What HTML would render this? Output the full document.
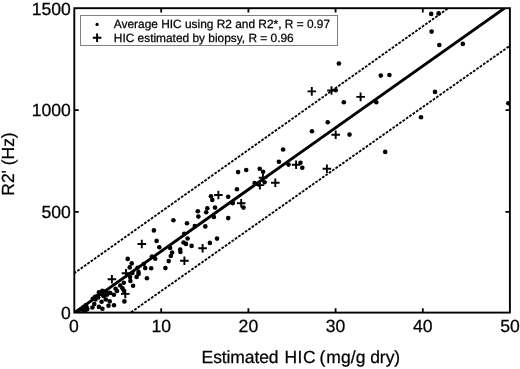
<!DOCTYPE html>
<html><head><meta charset="utf-8"><title>chart</title>
<style>
html,body{margin:0;padding:0;background:#fff;}
body{width:520px;height:369px;overflow:hidden;font-family:"Liberation Sans",sans-serif;}
svg{display:block;will-change:transform;}
text{font-family:"Liberation Sans",sans-serif;fill:#000;stroke:#000;stroke-width:0.25px;text-rendering:geometricPrecision;}
</style></head><body>
<svg width="520" height="369" viewBox="0 0 520 369">
<rect x="0" y="0" width="520" height="369" fill="#fff"/>
<defs><clipPath id="c"><rect x="74" y="8.3" width="436" height="304.7"/></clipPath></defs>

<g clip-path="url(#c)">
<line x1="74.0" y1="273.4" x2="510.0" y2="-35.5" stroke="#000" stroke-width="1.85" stroke-dasharray="2.7 1.4"/>
<line x1="74.0" y1="352.4" x2="510.0" y2="45.7" stroke="#000" stroke-width="1.85" stroke-dasharray="2.7 1.4"/>
<line x1="74.0" y1="313.0" x2="510.0" y2="4.3" stroke="#000" stroke-width="2.9"/>
<g fill="#000">
<circle cx="108.5" cy="305.8" r="2.3"/>
<circle cx="98.9" cy="306.9" r="2.3"/>
<circle cx="102.4" cy="308.7" r="2.3"/>
<circle cx="94.3" cy="304.1" r="2.3"/>
<circle cx="92.4" cy="307.5" r="2.3"/>
<circle cx="101.6" cy="301.8" r="2.3"/>
<circle cx="85.8" cy="305.2" r="2.3"/>
<circle cx="83.5" cy="307.2" r="2.3"/>
<circle cx="81.2" cy="309.1" r="2.3"/>
<circle cx="87.4" cy="309.1" r="2.3"/>
<circle cx="78.5" cy="311.4" r="2.3"/>
<circle cx="85.0" cy="311.4" r="2.3"/>
<circle cx="105.8" cy="299.5" r="2.3"/>
<circle cx="109.7" cy="301.4" r="2.3"/>
<circle cx="98.9" cy="292.2" r="2.3"/>
<circle cx="102.8" cy="291.4" r="2.3"/>
<circle cx="105.8" cy="294.5" r="2.3"/>
<circle cx="95.1" cy="296.8" r="2.3"/>
<circle cx="92.8" cy="298.7" r="2.3"/>
<circle cx="98.2" cy="297.5" r="2.3"/>
<circle cx="103.5" cy="296.0" r="2.3"/>
<circle cx="108.9" cy="292.9" r="2.3"/>
<circle cx="83.0" cy="309.8" r="2.3"/>
<circle cx="86.5" cy="307.0" r="2.3"/>
<circle cx="84.2" cy="311.6" r="2.3"/>
<circle cx="95.5" cy="299.5" r="2.3"/>
<circle cx="97.5" cy="296.0" r="2.3"/>
<circle cx="123.8" cy="290.8" r="2.3"/>
<circle cx="133.1" cy="285.7" r="2.3"/>
<circle cx="123.8" cy="282.7" r="2.3"/>
<circle cx="130.4" cy="280.9" r="2.3"/>
<circle cx="130.1" cy="277.1" r="2.3"/>
<circle cx="136.6" cy="276.9" r="2.3"/>
<circle cx="138.6" cy="273.9" r="2.3"/>
<circle cx="132.4" cy="273.0" r="2.3"/>
<circle cx="120.2" cy="285.5" r="2.3"/>
<circle cx="122.5" cy="288.2" r="2.3"/>
<circle cx="115.6" cy="288.7" r="2.3"/>
<circle cx="117.0" cy="291.0" r="2.3"/>
<circle cx="110.3" cy="293.0" r="2.3"/>
<circle cx="113.9" cy="294.7" r="2.3"/>
<circle cx="102.3" cy="290.8" r="2.3"/>
<circle cx="105.4" cy="291.5" r="2.3"/>
<circle cx="101.5" cy="293.8" r="2.3"/>
<circle cx="107.0" cy="294.6" r="2.3"/>
<circle cx="103.8" cy="296.0" r="2.3"/>
<circle cx="146.9" cy="278.3" r="2.3"/>
<circle cx="124.4" cy="301.4" r="2.3"/>
<circle cx="114.0" cy="305.2" r="2.3"/>
<circle cx="155.2" cy="258.8" r="2.3"/>
<circle cx="137.6" cy="267.7" r="2.3"/>
<circle cx="153.9" cy="230.4" r="2.3"/>
<circle cx="156.6" cy="240.9" r="2.3"/>
<circle cx="159.3" cy="247.2" r="2.3"/>
<circle cx="127.7" cy="258.9" r="2.3"/>
<circle cx="131.7" cy="263.4" r="2.3"/>
<circle cx="129.7" cy="267.4" r="2.3"/>
<circle cx="138.5" cy="272.1" r="2.3"/>
<circle cx="143.8" cy="264.0" r="2.3"/>
<circle cx="145.2" cy="268.1" r="2.3"/>
<circle cx="151.2" cy="268.3" r="2.3"/>
<circle cx="151.9" cy="256.6" r="2.3"/>
<circle cx="165.4" cy="268.1" r="2.3"/>
<circle cx="168.7" cy="261.1" r="2.3"/>
<circle cx="170.8" cy="256.0" r="2.3"/>
<circle cx="172.1" cy="252.6" r="2.3"/>
<circle cx="170.1" cy="247.9" r="2.3"/>
<circle cx="180.2" cy="249.5" r="2.3"/>
<circle cx="180.4" cy="252.0" r="2.3"/>
<circle cx="183.5" cy="242.5" r="2.3"/>
<circle cx="187.6" cy="238.5" r="2.3"/>
<circle cx="191.6" cy="245.9" r="2.3"/>
<circle cx="184.2" cy="233.7" r="2.3"/>
<circle cx="173.4" cy="220.3" r="2.3"/>
<circle cx="186.0" cy="243.9" r="2.3"/>
<circle cx="236.9" cy="189.2" r="2.3"/>
<circle cx="228.2" cy="196.8" r="2.3"/>
<circle cx="211.0" cy="196.2" r="2.3"/>
<circle cx="212.3" cy="199.9" r="2.3"/>
<circle cx="215.0" cy="207.6" r="2.3"/>
<circle cx="207.3" cy="208.3" r="2.3"/>
<circle cx="206.2" cy="212.3" r="2.3"/>
<circle cx="197.8" cy="211.2" r="2.3"/>
<circle cx="198.4" cy="216.6" r="2.3"/>
<circle cx="187.0" cy="223.3" r="2.3"/>
<circle cx="194.8" cy="226.0" r="2.3"/>
<circle cx="205.3" cy="226.4" r="2.3"/>
<circle cx="213.9" cy="217.0" r="2.3"/>
<circle cx="228.2" cy="218.1" r="2.3"/>
<circle cx="232.5" cy="202.9" r="2.3"/>
<circle cx="243.5" cy="207.6" r="2.3"/>
<circle cx="209.9" cy="242.9" r="2.3"/>
<circle cx="217.0" cy="238.6" r="2.3"/>
<circle cx="312.0" cy="131.2" r="2.3"/>
<circle cx="283.1" cy="149.5" r="2.3"/>
<circle cx="278.9" cy="161.8" r="2.3"/>
<circle cx="288.5" cy="164.6" r="2.3"/>
<circle cx="300.5" cy="162.8" r="2.3"/>
<circle cx="302.3" cy="167.7" r="2.3"/>
<circle cx="246.2" cy="170.0" r="2.3"/>
<circle cx="259.7" cy="168.8" r="2.3"/>
<circle cx="263.1" cy="171.8" r="2.3"/>
<circle cx="254.6" cy="183.1" r="2.3"/>
<circle cx="264.6" cy="182.3" r="2.3"/>
<circle cx="259.0" cy="184.6" r="2.3"/>
<circle cx="238.1" cy="172.1" r="2.3"/>
<circle cx="232.7" cy="203.1" r="2.3"/>
<circle cx="338.9" cy="63.5" r="2.3"/>
<circle cx="335.7" cy="90.3" r="2.3"/>
<circle cx="343.8" cy="102.3" r="2.3"/>
<circle cx="327.7" cy="122.3" r="2.3"/>
<circle cx="349.5" cy="134.6" r="2.3"/>
<circle cx="385.2" cy="151.9" r="2.3"/>
<circle cx="380.8" cy="75.6" r="2.3"/>
<circle cx="389.4" cy="75.0" r="2.3"/>
<circle cx="376.3" cy="102.3" r="2.3"/>
<circle cx="435.0" cy="91.9" r="2.3"/>
<circle cx="421.0" cy="117.3" r="2.3"/>
<circle cx="431.2" cy="13.9" r="2.3"/>
<circle cx="438.6" cy="13.4" r="2.3"/>
<circle cx="431.6" cy="31.6" r="2.3"/>
<circle cx="439.3" cy="45.0" r="2.3"/>
<circle cx="462.8" cy="43.9" r="2.3"/>
<circle cx="508.3" cy="103.3" r="2.3"/>
</g>
<g stroke="#000" stroke-width="1.9">
<path d="M107.6 279.3h8.6M111.9 275.0v8.6"/>
<path d="M121.7 273.2h8.6M126.0 268.9v8.6"/>
<path d="M121.0 293.9h8.6M125.3 289.6v8.6"/>
<path d="M137.5 244.0h8.6M141.8 239.7v8.6"/>
<path d="M180.1 260.7h8.6M184.4 256.4v8.6"/>
<path d="M198.3 248.2h8.6M202.6 243.9v8.6"/>
<path d="M214.1 195.0h8.6M218.4 190.7v8.6"/>
<path d="M236.9 203.3h8.6M241.2 199.0v8.6"/>
<path d="M258.7 177.8h8.6M263.0 173.5v8.6"/>
<path d="M255.6 185.1h8.6M259.9 180.8v8.6"/>
<path d="M271.0 182.7h8.6M275.3 178.4v8.6"/>
<path d="M291.8 164.8h8.6M296.1 160.5v8.6"/>
<path d="M307.5 91.4h8.6M311.8 87.1v8.6"/>
<path d="M327.2 90.5h8.6M331.5 86.2v8.6"/>
<path d="M356.3 96.9h8.6M360.6 92.6v8.6"/>
<path d="M331.4 134.8h8.6M335.7 130.5v8.6"/>
<path d="M322.6 168.7h8.6M326.9 164.4v8.6"/>
</g>
</g>
<rect x="74.3" y="8.2" width="435.6" height="304.4" fill="none" stroke="#000" stroke-width="1.9"/>
<path d="M161.2 312.6v-4.4M161.2 8.2v4.4M248.4 312.6v-4.4M248.4 8.2v4.4M335.6 312.6v-4.4M335.6 8.2v4.4M422.8 312.6v-4.4M422.8 8.2v4.4M74.3 211.8h4.4M509.9 211.8h-4.4M74.3 110.2h4.4M509.9 110.2h-4.4" stroke="#000" stroke-width="1.8" fill="none"/>
<text x="74.0" y="331.5" font-size="17.6" text-anchor="middle">0</text>
<text x="161.2" y="331.5" font-size="17.6" text-anchor="middle">10</text>
<text x="248.4" y="331.5" font-size="17.6" text-anchor="middle">20</text>
<text x="335.6" y="331.5" font-size="17.6" text-anchor="middle">30</text>
<text x="422.8" y="331.5" font-size="17.6" text-anchor="middle">40</text>
<text x="510.0" y="331.5" font-size="17.6" text-anchor="middle">50</text>
<text x="70.8" y="319.4" font-size="17.6" text-anchor="end">0</text>
<text x="70.8" y="217.8" font-size="17.6" text-anchor="end">500</text>
<text x="70.8" y="116.3" font-size="17.6" text-anchor="end">1000</text>
<text x="70.8" y="14.8" font-size="17.6" text-anchor="end">1500</text>
<text y="363.3" font-size="17.5"><tspan x="201.6" letter-spacing="-0.1">Estimated</tspan><tspan x="284.4" letter-spacing="0.5">HIC</tspan><tspan x="319.4">(</tspan><tspan x="326.3" letter-spacing="0.1">mg/g</tspan><tspan x="370.2" letter-spacing="-0.05">dry)</tspan></text>
<text transform="translate(14.2,195.7) rotate(-90)" font-size="17.5" textLength="63.4" lengthAdjust="spacing">R2' (Hz)</text>
<rect x="80.5" y="15.5" width="257" height="30" fill="#fff" stroke="#808080" stroke-width="1"/>
<circle cx="97.1" cy="24.4" r="1.6" fill="#000"/>
<path d="M92.8 37.8h8.6M97.1 33.5v8.6" stroke="#000" stroke-width="2"/>
<text x="113.8" y="28.1" font-size="11.9">Average HIC using R2 and R2*, R = 0.97</text>
<text x="113.8" y="41.6" font-size="11.9">HIC estimated by biopsy, R = 0.96</text>
</svg></body></html>
